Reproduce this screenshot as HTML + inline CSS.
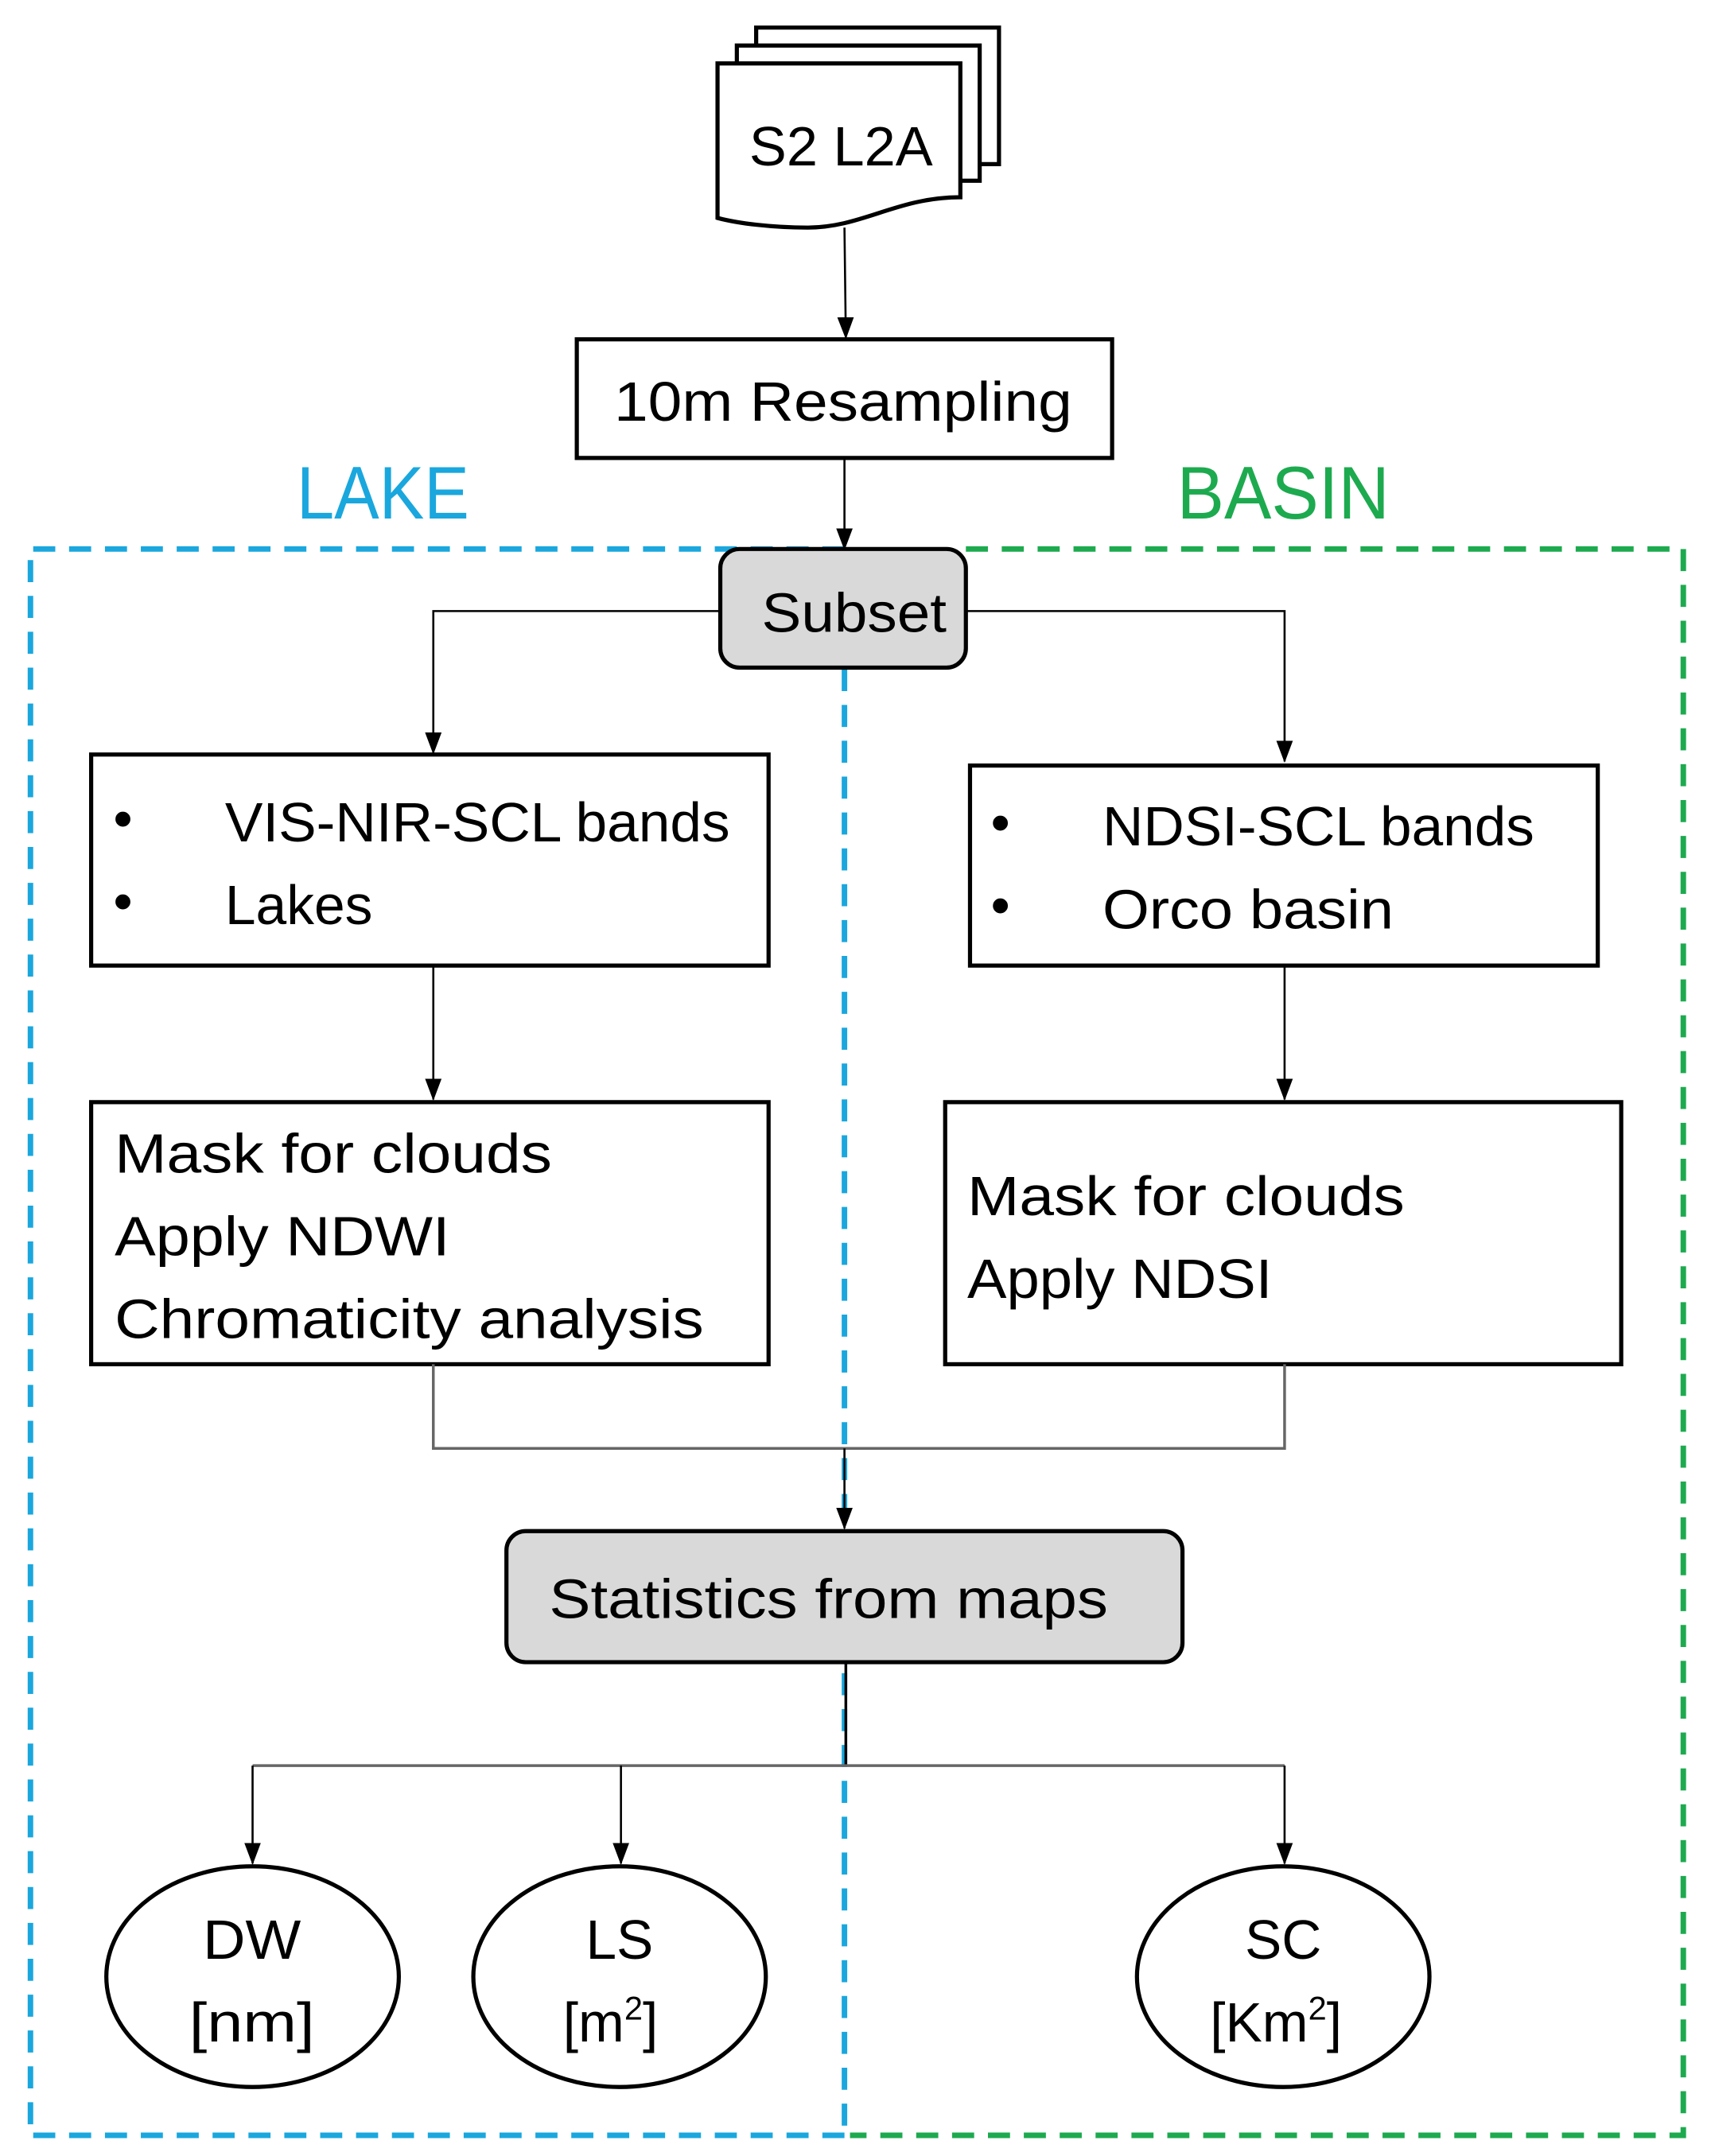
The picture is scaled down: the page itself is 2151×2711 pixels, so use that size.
<!DOCTYPE html>
<html><head><meta charset="utf-8"><style>
html,body{margin:0;padding:0;background:#fff;}
svg{display:block;}
text{font-family:"Liberation Sans",sans-serif;fill:#000;}
</style></head><body>
<svg width="2151" height="2711" viewBox="0 0 1240 1563" xmlns="http://www.w3.org/2000/svg">
<defs>
<marker id="a" markerWidth="16" markerHeight="12" refX="15" refY="6" orient="auto" markerUnits="userSpaceOnUse" viewBox="0 0 16 12">
<path d="M0,0 L16,6 L0,12 z" fill="#000"/>
</marker>
</defs>
<rect width="1240" height="1563" fill="#fff"/>
<path d="M612,398 L22,398 L22,1548 L612,1548" fill="none" stroke="#1AA7DD" stroke-width="4" stroke-dasharray="16,10"/>
<line x1="612" y1="485" x2="612" y2="1548" stroke="#1AA7DD" stroke-width="4" stroke-dasharray="16,10"/>
<path d="M700,398 L1220,398 L1220,1548 L616,1548" fill="none" stroke="#1DAA4F" stroke-width="4" stroke-dasharray="16,10"/>
<text x="215" y="376" font-size="54" style="fill:#1AA7DD" textLength="125" lengthAdjust="spacingAndGlyphs">LAKE</text>
<text x="853" y="376" font-size="54" style="fill:#1DAA4F" textLength="154" lengthAdjust="spacingAndGlyphs">BASIN</text>
<g fill="#fff" stroke="#000" stroke-width="3">
<path d="M548,20 L724,20 L724,119 L548,119 z"/>
<path d="M534,33 L710,33 L710,131 L534,131 z"/>
<path d="M520,46 L696,46 L696,143 C650,143 625,165 585,165 C560,165 535,162 520,158 z"/>
</g>
<text x="543" y="120" font-size="40" textLength="133" lengthAdjust="spacingAndGlyphs">S2 L2A</text>
<line x1="612" y1="165" x2="613" y2="245" stroke="#000" stroke-width="1.5" marker-end="url(#a)"/>
<rect x="418" y="246" width="388" height="86" fill="#fff" stroke="#000" stroke-width="3"/>
<text x="445" y="305" font-size="40" textLength="332" lengthAdjust="spacingAndGlyphs">10m Resampling</text>
<line x1="612" y1="332" x2="612" y2="398" stroke="#000" stroke-width="1.5" marker-end="url(#a)"/>
<path d="M522,443 L314,443 L314,546" fill="none" stroke="#000" stroke-width="1.5" marker-end="url(#a)"/>
<path d="M700,443 L931,443 L931,552" fill="none" stroke="#000" stroke-width="1.5" marker-end="url(#a)"/>
<rect x="522" y="398" width="178" height="86" rx="14" fill="#D9D9D9" stroke="#000" stroke-width="3"/>
<text x="552" y="458" font-size="40" textLength="134" lengthAdjust="spacingAndGlyphs">Subset</text>
<rect x="66" y="547" width="491" height="153" fill="#fff" stroke="#000" stroke-width="3"/>
<text x="82" y="607" font-size="40">•</text>
<text x="82" y="667" font-size="40">•</text>
<text x="163" y="610" font-size="40" textLength="366" lengthAdjust="spacingAndGlyphs">VIS-NIR-SCL bands</text>
<text x="163" y="670" font-size="40" textLength="107" lengthAdjust="spacingAndGlyphs">Lakes</text>
<rect x="703" y="555" width="455" height="145" fill="#fff" stroke="#000" stroke-width="3"/>
<text x="718" y="610" font-size="40">•</text>
<text x="718" y="670" font-size="40">•</text>
<text x="799" y="613" font-size="40" textLength="313" lengthAdjust="spacingAndGlyphs">NDSI-SCL bands</text>
<text x="799" y="673" font-size="40" textLength="211" lengthAdjust="spacingAndGlyphs">Orco basin</text>
<line x1="314" y1="700" x2="314" y2="797" stroke="#000" stroke-width="1.5" marker-end="url(#a)"/>
<line x1="931" y1="700" x2="931" y2="797" stroke="#000" stroke-width="1.5" marker-end="url(#a)"/>
<rect x="66" y="799" width="491" height="190" fill="#fff" stroke="#000" stroke-width="3"/>
<text x="83" y="850" font-size="40" textLength="317" lengthAdjust="spacingAndGlyphs">Mask for clouds</text>
<text x="83" y="910" font-size="40" textLength="243" lengthAdjust="spacingAndGlyphs">Apply NDWI</text>
<text x="83" y="970" font-size="40" textLength="427" lengthAdjust="spacingAndGlyphs">Chromaticity analysis</text>
<rect x="685" y="799" width="490" height="190" fill="#fff" stroke="#000" stroke-width="3"/>
<text x="701" y="881" font-size="40" textLength="317" lengthAdjust="spacingAndGlyphs">Mask for clouds</text>
<text x="701" y="941" font-size="40" textLength="221" lengthAdjust="spacingAndGlyphs">Apply NDSI</text>
<path d="M314,989 L314,1050 L931,1050 L931,989" fill="none" stroke="#666" stroke-width="2"/>
<line x1="612" y1="1050" x2="612" y2="1108" stroke="#000" stroke-width="1.5" marker-end="url(#a)"/>
<rect x="367" y="1110" width="490" height="95" rx="14" fill="#D9D9D9" stroke="#000" stroke-width="3"/>
<text x="398" y="1173" font-size="40" textLength="405" lengthAdjust="spacingAndGlyphs">Statistics from maps</text>
<line x1="613" y1="1205" x2="613" y2="1280" stroke="#000" stroke-width="2"/>
<path d="M183,1280 L931,1280" fill="none" stroke="#666" stroke-width="2"/>
<line x1="183" y1="1280" x2="183" y2="1351" stroke="#000" stroke-width="1.5" marker-end="url(#a)"/>
<line x1="450" y1="1280" x2="450" y2="1351" stroke="#000" stroke-width="1.5" marker-end="url(#a)"/>
<line x1="931" y1="1280" x2="931" y2="1351" stroke="#000" stroke-width="1.5" marker-end="url(#a)"/>
<g fill="#fff" stroke="#000" stroke-width="3">
<ellipse cx="183" cy="1433" rx="106" ry="80"/>
<ellipse cx="449" cy="1433" rx="106" ry="80"/>
<ellipse cx="930" cy="1433" rx="106" ry="80"/>
</g>
<text x="147" y="1420" font-size="40" textLength="71" lengthAdjust="spacingAndGlyphs">DW</text>
<text x="137" y="1480" font-size="40" textLength="91" lengthAdjust="spacingAndGlyphs">[nm]</text>
<text x="449" y="1420" font-size="40" text-anchor="middle">LS</text>
<text x="408" y="1480" font-size="40">[m<tspan font-size="24" dy="-16">2</tspan><tspan dy="16">]</tspan></text>
<text x="930" y="1420" font-size="40" text-anchor="middle">SC</text>
<text x="877" y="1480" font-size="40">[Km<tspan font-size="24" dy="-16">2</tspan><tspan dy="16">]</tspan></text>
</svg>
</body></html>
